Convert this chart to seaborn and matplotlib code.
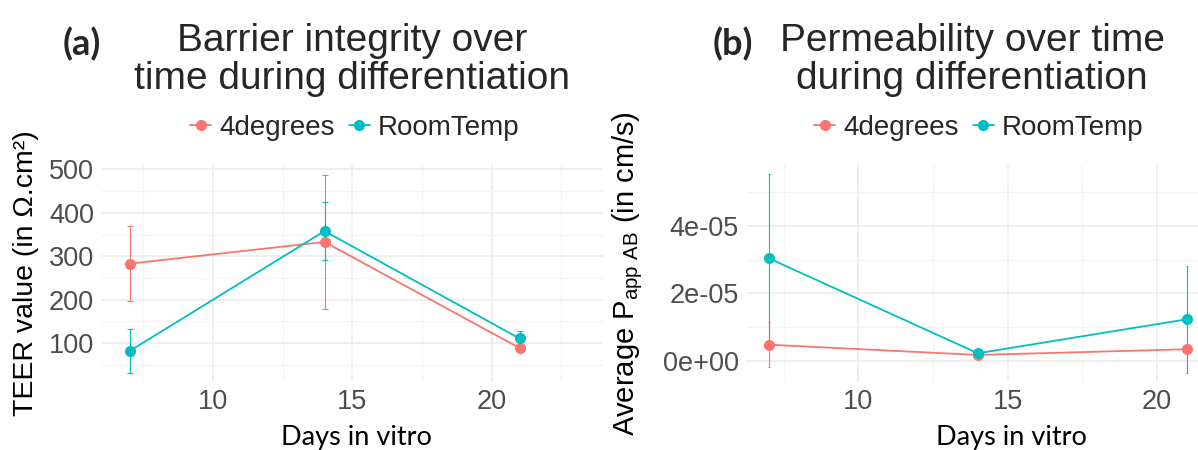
import numpy as np
import pandas as pd
import matplotlib
matplotlib.use("Agg")
import matplotlib.pyplot as plt
from matplotlib.ticker import FixedLocator, FuncFormatter
import seaborn as sns

# ---- data -------------------------------------------------------------
days = [7, 14, 21]
conditions = ["4degrees", "RoomTemp"]

teer_4deg = [283, 333, 89]
teer_4deg_sd = [86, 154, 5]
teer_room = [82, 358, 111]
teer_room_sd = [50, 67, 18]

papp_4deg = [0.475e-5, 0.17e-5, 0.34e-5]
papp_4deg_sd = [0.67e-5, 0.05e-5, 0.05e-5]
papp_room = [3.04e-5, 0.22e-5, 1.23e-5]
papp_room_sd = [2.50e-5, 0.05e-5, 1.59e-5]

palette = {"4degrees": "#F8766D", "RoomTemp": "#00BFC4"}

teer_df = pd.DataFrame({
    "day": days * 2,
    "condition": [conditions[0]] * 3 + [conditions[1]] * 3,
    "value": teer_4deg + teer_room,
    "sd": teer_4deg_sd + teer_room_sd,
})
papp_df = pd.DataFrame({
    "day": days * 2,
    "condition": [conditions[0]] * 3 + [conditions[1]] * 3,
    "value": papp_4deg + papp_room,
    "sd": papp_4deg_sd + papp_room_sd,
})

# ---- style ------------------------------------------------------------
sns.set_theme(style="white")
plt.rcParams["font.family"] = ["Liberation Sans", "DejaVu Sans"]
plt.rcParams["mathtext.default"] = "regular"

TICK_COLOR = "#4D4D4D"
GRID_MAJOR = "#EBEBEB"
GRID_MINOR = "#F3F3F3"
W, H = 1198, 450

fig = plt.figure(figsize=(W / 100, H / 100), dpi=100)
ax_a = fig.add_axes([0.0849, 0.1511, 0.4185, 0.4822])
ax_b = fig.add_axes([0.6233, 0.1511, 0.3767, 0.4822])


def draw_panel(ax, df, capsize, legend_x, xlabel_x):
    for cond in conditions:
        sub = df[df["condition"] == cond]
        ax.errorbar(sub["day"], sub["value"], yerr=sub["sd"], fmt="none",
                    ecolor=palette[cond], elinewidth=0.8, capsize=capsize,
                    capthick=0.8, zorder=2)
    sns.lineplot(data=df, x="day", y="value", hue="condition",
                 hue_order=conditions, palette=palette, marker="o",
                 markersize=8, markeredgewidth=0, linewidth=1.3,
                 errorbar=None, ax=ax, zorder=3)
    handles, labels = ax.get_legend_handles_labels()
    ax.get_legend().remove()
    ax.legend(handles, labels, loc="center", bbox_to_anchor=(legend_x, 1.17),
              ncol=2, frameon=False, fontsize=20, handlelength=0.75,
              handletextpad=0.3, columnspacing=0.5, borderaxespad=0)
    for s in ax.spines.values():
        s.set_visible(False)
    ax.tick_params(axis="both", length=0, labelsize=19.5, colors=TICK_COLOR)
    ax.tick_params(axis="y", pad=5.5)
    ax.tick_params(axis="x", pad=5)
    ax.grid(True, which="major", color=GRID_MAJOR, linewidth=1.1, zorder=0)
    ax.grid(True, which="minor", color=GRID_MINOR, linewidth=0.9, zorder=0)
    ax.set_axisbelow(True)
    ax.xaxis.set_major_locator(FixedLocator([10, 15, 20]))
    ax.xaxis.set_minor_locator(FixedLocator([7.5, 12.5, 17.5, 22.5]))
    ax.set_xlabel("Days in vitro", family=["Lato", "DejaVu Sans"],
                  fontsize=19.5, color="black")
    ax.xaxis.set_label_coords(xlabel_x, -0.2)


# (a) TEER
draw_panel(ax_a, teer_df, capsize=2.0, legend_x=0.505, xlabel_x=0.508)
ax_a.set_xlim(6.0, 24.0)
ax_a.set_ylim(10.8, 510)
ax_a.yaxis.set_major_locator(FixedLocator([100, 200, 300, 400, 500]))
ax_a.yaxis.set_minor_locator(FixedLocator([50, 150, 250, 350, 450]))
ax_a.set_ylabel("TEER value (in Ω.cm²)", fontsize=20.5, color="black")
ax_a.yaxis.set_label_coords(-0.126, 0.5)

# (b) apparent permeability
draw_panel(ax_b, papp_df, capsize=1.0, legend_x=0.515, xlabel_x=0.586)
ax_b.set_xlim(6.26, 21.37)
ax_b.set_ylim(-0.633e-5, 5.81e-5)
ax_b.yaxis.set_major_locator(FixedLocator([0, 2e-5, 4e-5]))
ax_b.yaxis.set_minor_locator(FixedLocator([1e-5, 3e-5, 5e-5]))
ax_b.yaxis.set_major_formatter(FuncFormatter(lambda v, p: f"{v:.0e}"))
ax_b.set_ylabel(r"Average P$_{app\ AB}$ (in cm/s)", fontsize=21, color="black")
ax_b.yaxis.set_label_coords(-0.226, 0.5)

# titles and panel tags
fig.text(352 / W, 1 - 60 / H, "Barrier integrity over\ntime during differentiation",
         ha="center", va="center", fontsize=28, linespacing=1.1)
fig.text(972 / W, 1 - 60 / H, "Permeability over time\nduring differentiation",
         ha="center", va="center", fontsize=28, linespacing=1.1)
fig.text(82 / W, 1 - 44 / H, "(a)", ha="center", va="center",
         fontsize=26, fontweight="bold", family=["Lato", "DejaVu Sans"])
fig.text(733 / W, 1 - 44 / H, "(b)", ha="center", va="center",
         fontsize=26, fontweight="bold", family=["Lato", "DejaVu Sans"])

fig.savefig("out.png", dpi=100)
